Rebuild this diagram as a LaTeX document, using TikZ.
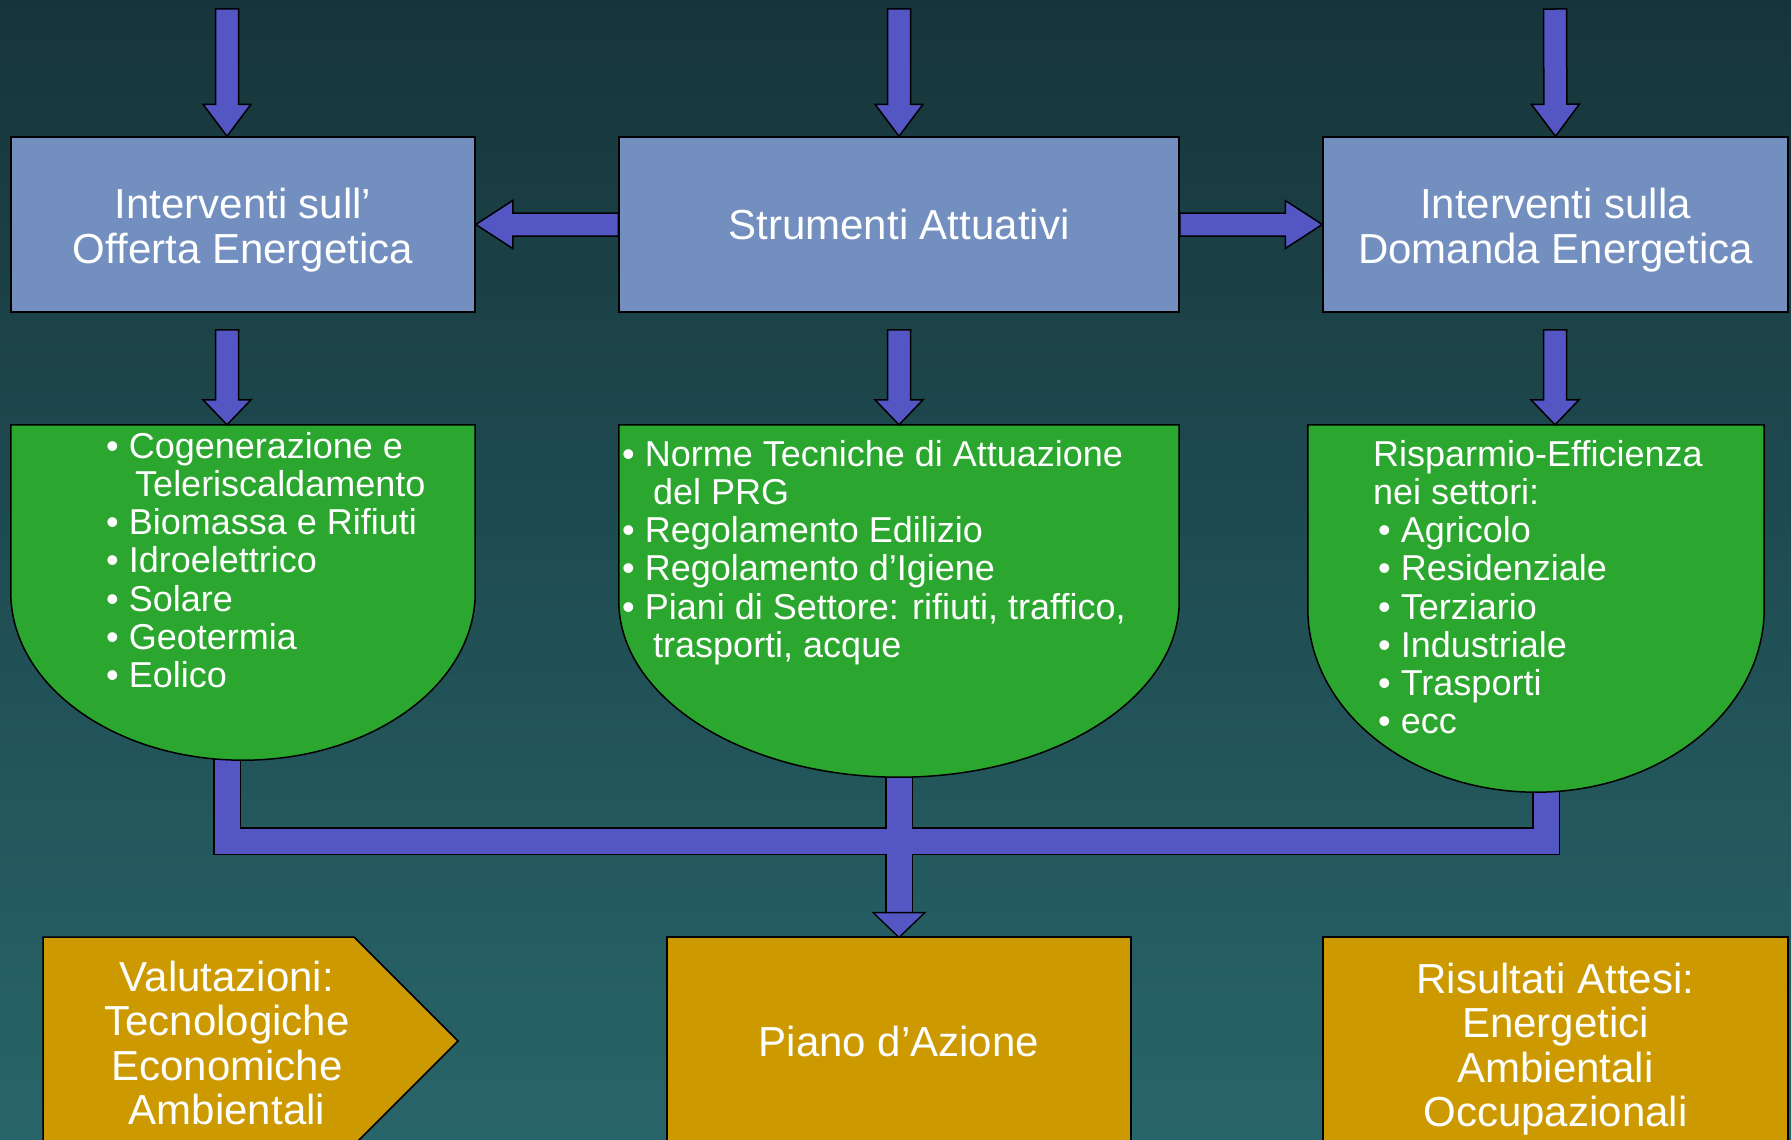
\documentclass[tikz,border=0pt]{standalone}
\usepackage{fontspec}
\setmainfont{Liberation Sans}
\usetikzlibrary{calc,shapes.symbols}

\definecolor{bgtop}{RGB}{22,53,58}
\definecolor{bgbottom}{RGB}{40,101,106}
\definecolor{boxblue}{RGB}{114,143,192}
\definecolor{arrowblue}{RGB}{84,86,196}
\definecolor{listgreen}{RGB}{43,166,46}
\definecolor{gold}{RGB}{204,153,0}

\newcommand{\topfont}{\fontsize{42}{44.5}\selectfont}
\newcommand{\listfont}{\fontsize{36}{38.2}\selectfont}

\tikzset{
  topbox/.style={draw=black,line width=1.5pt,fill=boxblue,text=white,align=center,font=\topfont,minimum height=175pt},
  endbox/.style={draw=black,line width=1.5pt,fill=gold,text=white,align=center,font=\topfont,minimum height=208pt},
  listbox/.style={inner sep=0pt},
  listtext/.style={anchor=north west,inner sep=0pt,align=left,text=white,font=\listfont},
  cup/.style={draw=black,line width=1.5pt,fill=listgreen},
  fat arrow/.style={draw=black,line width=1.5pt,fill=arrowblue,to path={
    let \p1=(\tikztostart), \p2=(\tikztotarget), \n1={atan2(\y2-\y1,\x2-\x1)} in
    ($(\p1)+(\n1+90:11.5pt)$) -- ($(\p2)+(\n1+180:#1)+(\n1+90:11.5pt)$)
    -- ($(\p2)+(\n1+180:#1)+(\n1+90:24pt)$) -- (\p2)
    -- ($(\p2)+(\n1+180:#1)+(\n1-90:24pt)$) -- ($(\p2)+(\n1+180:#1)+(\n1-90:11.5pt)$)
    -- ($(\p1)+(\n1-90:11.5pt)$) -- cycle}},
  fat arrow/.default=32pt
}

% green box: flat top, half ellipse below
\newcommand{\drawcup}[1]{%
  \draw[cup] let \p1=(#1.north east), \p2=(#1.center) in
    (#1.north west) -- (#1.north east) -- (#1.east)
    arc[start angle=0,end angle=-180,x radius=\x1-\x2,y radius=\y1-\y2] -- cycle;}

\begin{document}
\begin{tikzpicture}[x=1pt,y=-1pt]
\useasboundingbox (0,0) rectangle (1791,1140);
\clip (0,0) rectangle (1791,1140);
\shade[top color=bgtop,bottom color=bgbottom] (0,0) rectangle (1791,1140);

\coordinate (in-offerta) at (227,9);
\coordinate (in-strumenti) at (899,9);
\coordinate (in-domanda) at (1555,9);
\coordinate (band) at (899,841);

\node (offerta) at (243,224.5) [topbox,minimum width=464pt] {\rule{0pt}{42pt}Interventi sull’\\Offerta Energetica};
\node (strumenti) at (899,224.5) [topbox,minimum width=560pt] {Strumenti Attuativi};
\node (domanda) at (1555.5,224.5) [topbox,minimum width=465pt] {\rule{0pt}{42pt}Interventi sulla\\Domanda Energetica};

\node (offerta-list) at (243,592.5) [listbox,minimum width=464pt,minimum height=335pt] {};
\node (strumenti-list) at (899,601) [listbox,minimum width=560pt,minimum height=352pt] {};
\node (domanda-list) at (1536,608.5) [listbox,minimum width=456pt,minimum height=367pt] {};

\node (valutazioni) at (198.5,1041) [endbox,signal,signal to=east,minimum width=415pt]
  {\kern57pt\begin{tabular}{@{}c@{}}\rule{0pt}{47pt}Valutazioni:\\Tecnologiche\\Economiche\\Ambientali\end{tabular}};
\node (azione) at (899,1041) [endbox,minimum width=464pt] {Piano d’Azione};
\node (risultati) at (1555.5,1041) [endbox,minimum width=465pt] {\rule{0pt}{47pt}Risultati Attesi:\\Energetici\\Ambientali\\Occupazionali};

% the three lists join into the action plan
\foreach \lw/\col in {28pt/black,25pt/arrowblue}
  \draw[line width=\lw,\col] ($(offerta-list.south -| in-offerta)+(0,-30)$) |- (band)
    ($(domanda-list.south)+(10,-30)$) |- (band)
    ($(strumenti-list.south)+(0,-30)$) -- ($(azione.north)+(0,-23)$);
\draw[line width=3pt] ($(azione.north)+(-24,-23)$) -- (azione.north) -- ($(azione.north)+(24,-23)$) -- cycle;
\fill[arrowblue] ($(azione.north)+(-24,-23)$) -- (azione.north) -- ($(azione.north)+(24,-23)$) -- cycle;

\drawcup{offerta-list}
\drawcup{strumenti-list}
\drawcup{domanda-list}

\draw[fat arrow] (in-offerta) to (in-offerta |- offerta.north);
\draw[fat arrow] (in-strumenti) to (strumenti.north);
\draw[fat arrow] (in-domanda) to (domanda.north);
\draw[fat arrow=37pt] (strumenti.west) to (offerta.east);
\draw[fat arrow=37pt] (strumenti.east) to (domanda.west);
\draw[fat arrow=25pt] ($(offerta.south -| in-offerta)+(0,17)$) to (offerta-list.north -| in-offerta);
\draw[fat arrow=25pt] ($(strumenti.south)+(0,17)$) to (strumenti-list.north);
\draw[fat arrow=25pt] ($(domanda.south -| in-domanda)+(0,17)$) to (domanda-list.north -| in-domanda);

\node (offerta-text) at (106,432) [listtext] {• Cogenerazione e\\\hspace*{29pt}Teleriscaldamento\\• Biomassa e Rifiuti\\• Idroelettrico\\• Solare\\• Geotermia\\• Eolico};
\node (strumenti-text) at (622,440) [listtext] {• Norme Tecniche di Attuazione\\\hspace*{31pt}del PRG\\• Regolamento Edilizio\\• Regolamento d’Igiene\\• Piani di Settore: rifiuti, traffico,\\\hspace*{31pt}trasporti, acque};
\node (domanda-text) at (1373,440) [listtext] {Risparmio-Efficienza\\nei settori:\\\hspace*{5pt}• Agricolo\\\hspace*{5pt}• Residenziale\\\hspace*{5pt}• Terziario\\\hspace*{5pt}• Industriale\\\hspace*{5pt}• Trasporti\\\hspace*{5pt}• ecc};
\end{tikzpicture}
\end{document}
